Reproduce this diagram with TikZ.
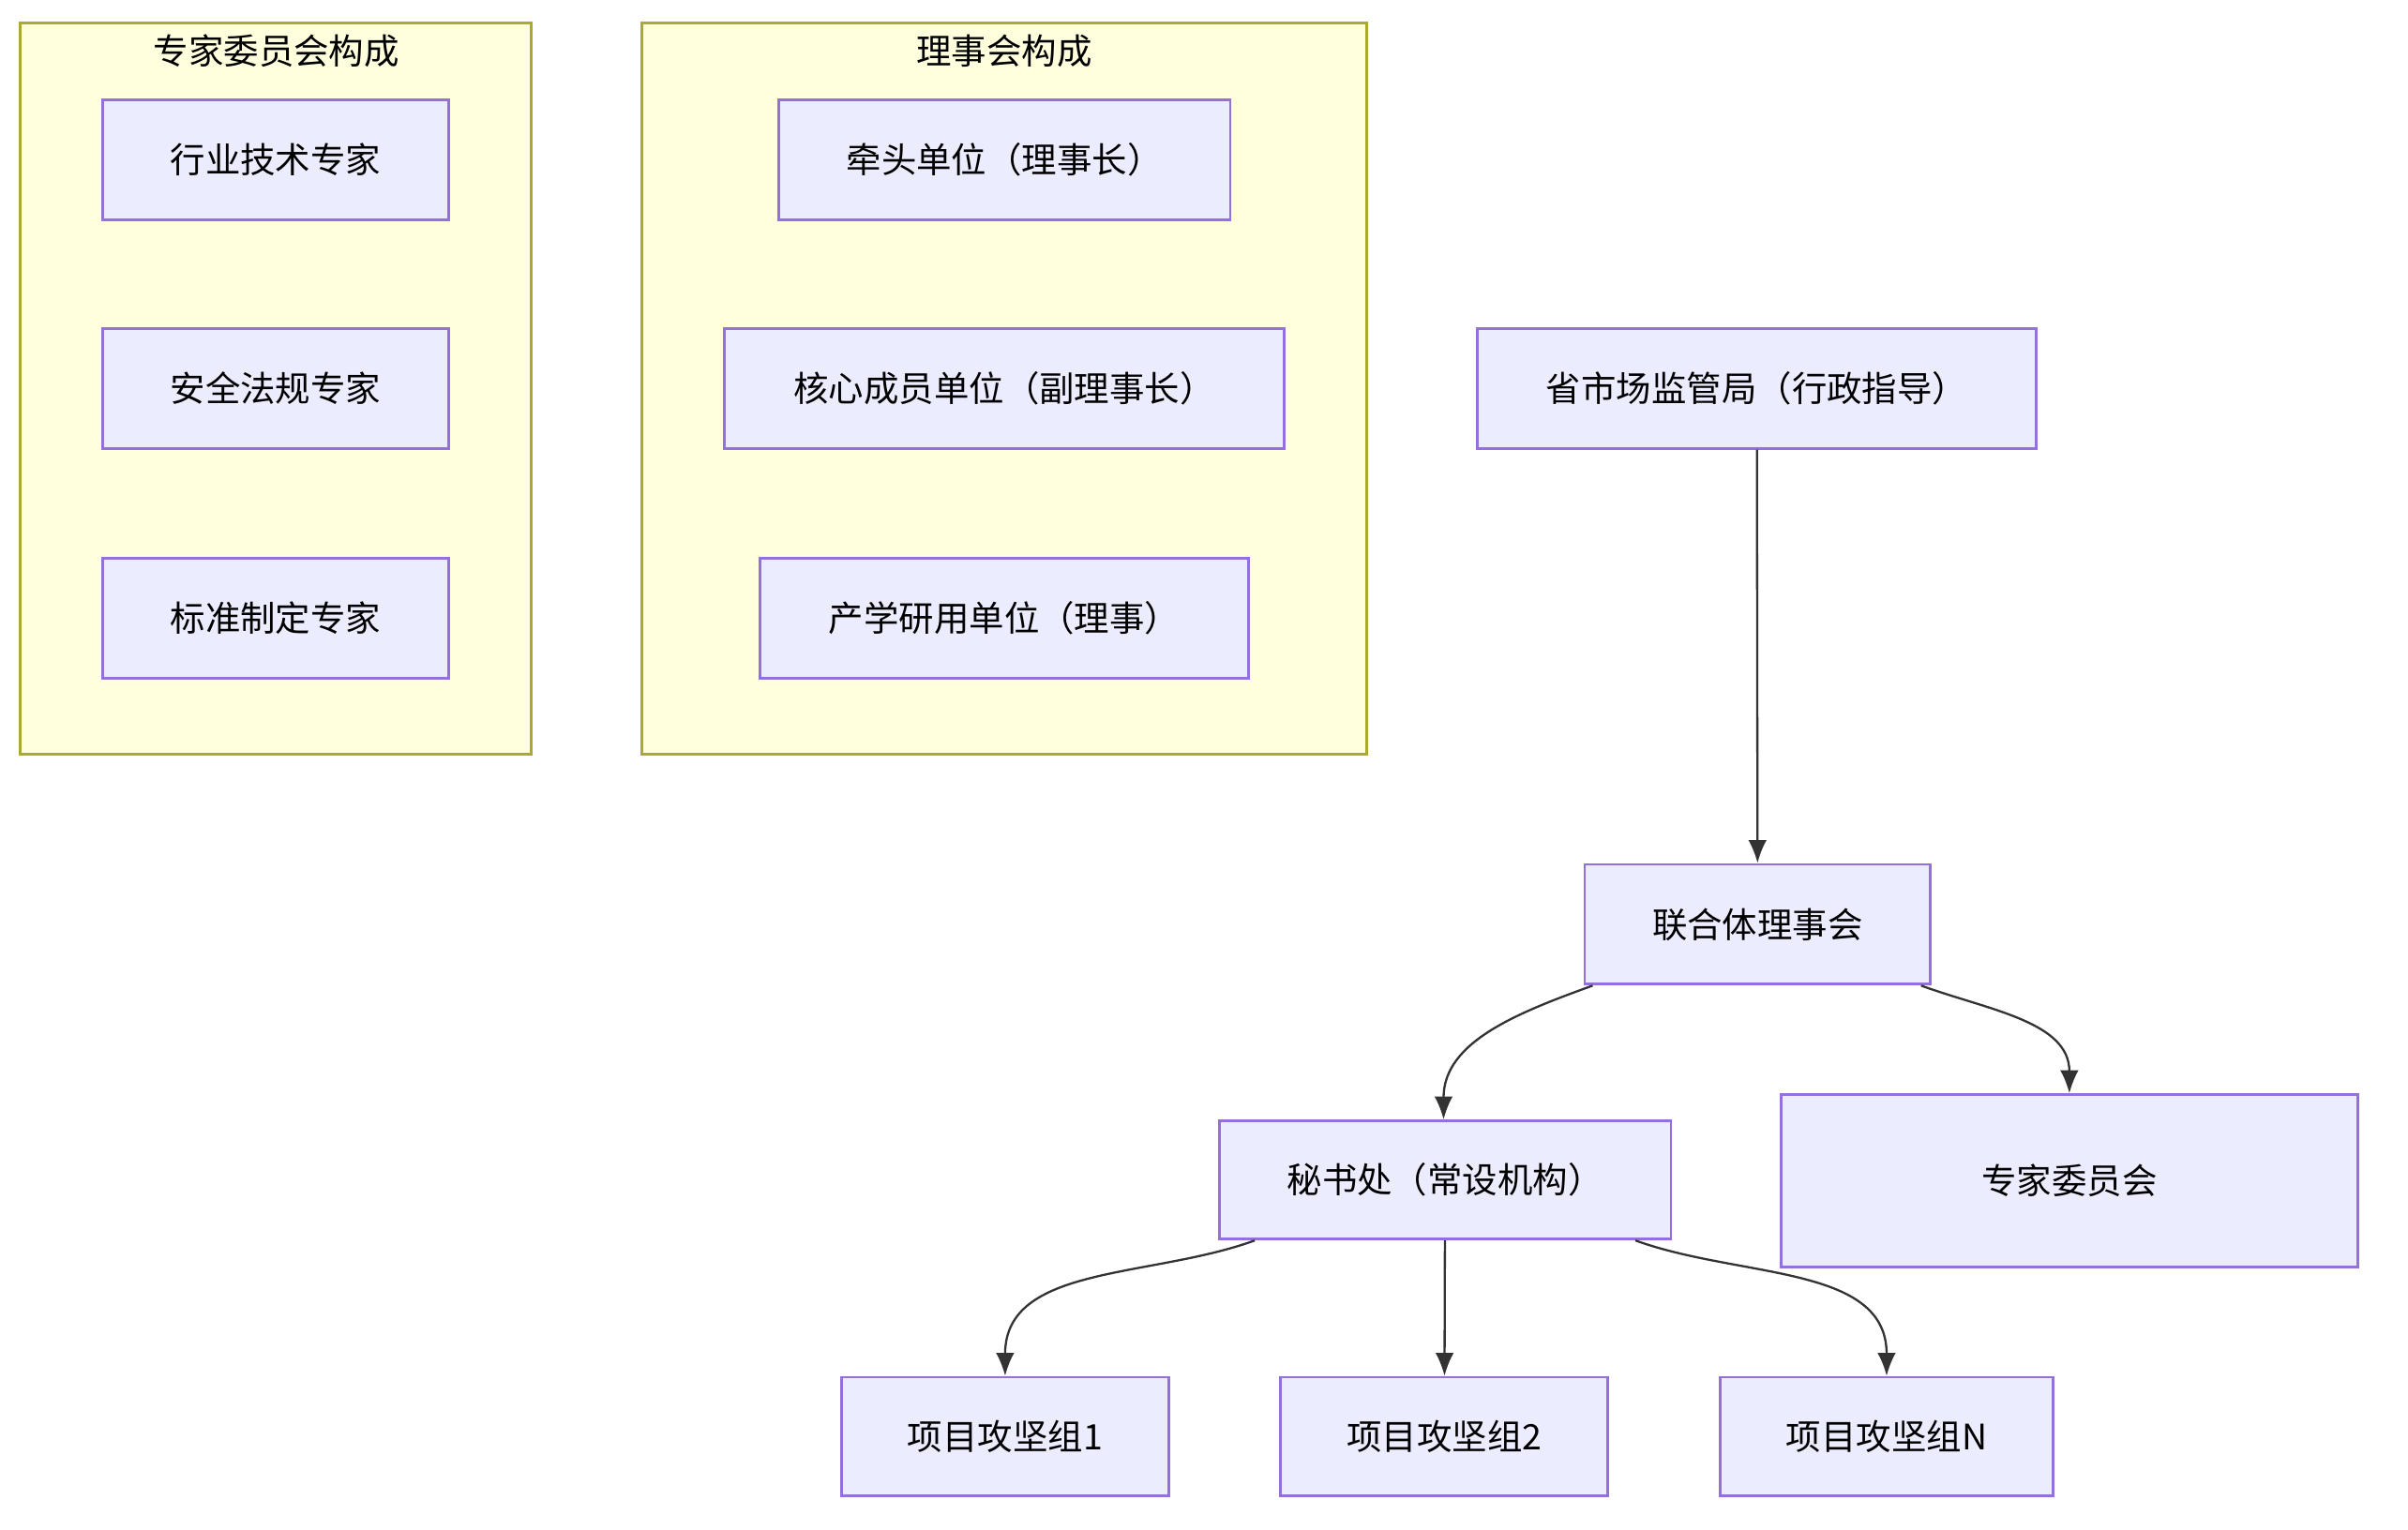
\documentclass[tikz,border=0pt]{standalone}
\usepackage{fontspec}
\setmainfont{Noto Sans CJK SC}
\usetikzlibrary{arrows.meta}
\definecolor{boxfill}{HTML}{ECECFF}
\definecolor{boxline}{HTML}{9370DB}
\definecolor{grpfill}{HTML}{FFFFDE}
\definecolor{grpline}{HTML}{AAAA33}
\definecolor{edge}{HTML}{333333}
\tikzset{
  box/.style={draw=boxline, fill=boxfill, line width=0.5pt, inner sep=0pt, font=\fontsize{6.5}{8}\selectfont},
  grp/.style={draw=grpline, fill=grpfill, line width=0.5pt},
  arr/.style={draw=edge, line width=0.4pt, -{Latex[length=1.5mm,width=1.2mm]}}
}
\begin{document}
\begin{tikzpicture}[x=0.01cm, y=-0.01cm]
\useasboundingbox (0,0) rectangle (1568,996);
% groups
\draw[grp] (13,15) rectangle (346,491);
\node[font=\fontsize{6.5}{8}\selectfont] (t1) at (180,33) {专家委员会构成};
\draw[grp] (418,15) rectangle (890,491);
\node[font=\fontsize{6.5}{8}\selectfont] (t2) at (654,33) {理事会构成};
% expert members
\node[box, minimum width=2.25cm, minimum height=0.78cm] (hy) at (179.5,104) {行业技术专家};
\node[box, minimum width=2.25cm, minimum height=0.78cm] (aq) at (179.5,253) {安全法规专家};
\node[box, minimum width=2.25cm, minimum height=0.78cm] (bz) at (179.5,402.5) {标准制定专家};
% council members
\node[box, minimum width=2.94cm, minimum height=0.78cm] (qt) at (654,104) {牵头单位（理事长）};
\node[box, minimum width=3.64cm, minimum height=0.78cm] (hx) at (654,253) {核心成员单位（副理事长）};
\node[box, minimum width=3.18cm, minimum height=0.78cm] (cx) at (654,402.5) {产学研用单位（理事）};
% main chart
\node[box, minimum width=3.64cm, minimum height=0.78cm] (sj) at (1144,253) {省市场监管局（行政指导）};
\node[box, minimum width=2.25cm, minimum height=0.78cm] (lh) at (1144.5,602) {联合体理事会};
\node[box, minimum width=2.94cm, minimum height=0.77cm] (ms) at (941,768.5) {秘书处（常设机构）};
\node[box, minimum width=3.75cm, minimum height=1.12cm] (zj) at (1347.5,769) {专家委员会};
\node[box, minimum width=2.13cm, minimum height=0.77cm] (g1) at (654.5,935.5) {项目攻坚组1};
\node[box, minimum width=2.13cm, minimum height=0.77cm] (g2) at (940.5,935.5) {项目攻坚组2};
\node[box, minimum width=2.17cm, minimum height=0.77cm] (gn) at (1228.5,935.5) {项目攻坚组N};
% edges
\draw[arr] (sj) -- (lh);
\draw[arr] ([xshift=0.06cm]lh.south west) to[out=-160, in=90] ([xshift=-0.01cm]ms.north);
\draw[arr] ([xshift=-0.07cm]lh.south east) to[out=-20, in=90] (zj.north);
\draw[arr] ([xshift=0.24cm]ms.south west) to[out=-160, in=90] (g1.north);
\draw[arr] (ms) -- (g2);
\draw[arr] ([xshift=-0.24cm]ms.south east) to[out=-20, in=90] (gn.north);
\end{tikzpicture}
\end{document}
